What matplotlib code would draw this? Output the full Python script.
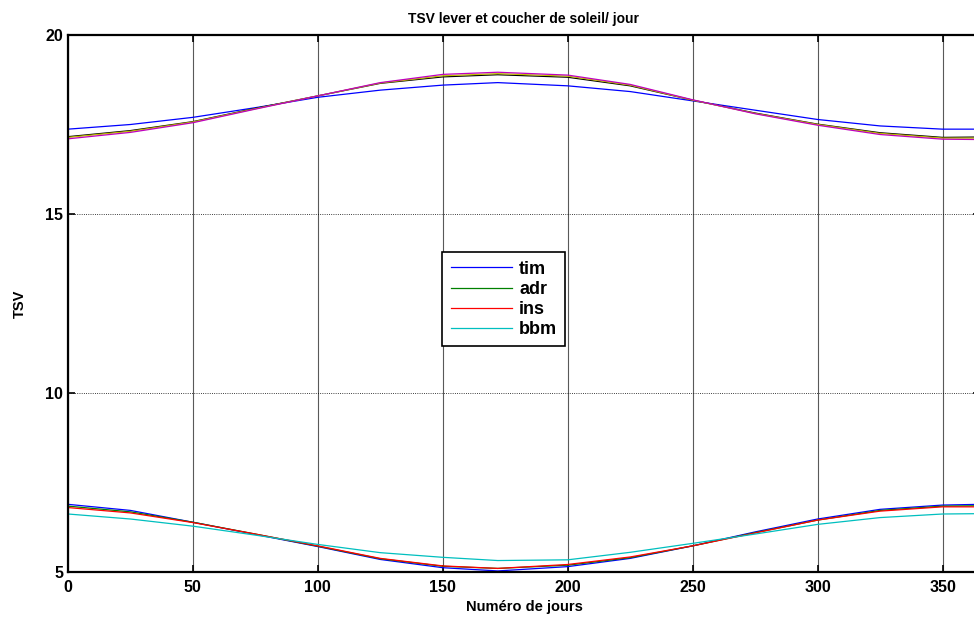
import matplotlib
matplotlib.use('Agg')
import matplotlib.pyplot as plt

plt.rcParams['font.family'] = ['Liberation Sans', 'DejaVu Sans']
plt.rcParams['font.weight'] = 'bold'

# days sampled along the year
days = [0, 25, 50, 75, 100, 125, 150, 172, 200, 225, 250, 275, 300, 325, 350, 365]

# sunrise (lever)
tim_lever = [6.89, 6.72, 6.39, 6.05, 5.71, 5.35, 5.12, 5.03, 5.15, 5.38, 5.73, 6.12, 6.48, 6.75, 6.87, 6.89]
adr_lever = [6.84, 6.68, 6.39, 6.06, 5.72, 5.37, 5.16, 5.10, 5.19, 5.40, 5.73, 6.10, 6.45, 6.72, 6.84, 6.85]
ins_lever = [6.80, 6.65, 6.38, 6.06, 5.73, 5.38, 5.17, 5.10, 5.21, 5.42, 5.73, 6.09, 6.45, 6.70, 6.82, 6.82]
bbm_lever = [6.62, 6.48, 6.28, 6.03, 5.77, 5.54, 5.41, 5.32, 5.34, 5.55, 5.80, 6.06, 6.33, 6.52, 6.62, 6.63]

# sunset (coucher)
tim_coucher = [17.37, 17.50, 17.70, 17.97, 18.26, 18.46, 18.60, 18.67, 18.58, 18.42, 18.16, 17.90, 17.64, 17.46, 17.37, 17.37]
adr_coucher = [17.16, 17.33, 17.58, 17.95, 18.30, 18.65, 18.83, 18.89, 18.82, 18.58, 18.18, 17.82, 17.51, 17.27, 17.14, 17.15]
ins_coucher = [17.14, 17.31, 17.57, 17.94, 18.30, 18.66, 18.86, 18.92, 18.85, 18.60, 18.18, 17.81, 17.50, 17.25, 17.12, 17.12]
bbm_coucher = [17.10, 17.28, 17.55, 17.93, 18.30, 18.67, 18.90, 18.96, 18.88, 18.62, 18.19, 17.80, 17.48, 17.22, 17.09, 17.08]

fig = plt.figure(figsize=(9.74, 6.17), dpi=100)
ax = fig.add_axes([68 / 974, 45 / 617, 912 / 974, 537 / 617])

lw = 0.9
ax.plot(days, tim_lever, color='b', lw=lw, label='tim')
ax.plot(days, adr_lever, color='g', lw=lw, label='adr')
ax.plot(days, ins_lever, color='r', lw=lw, label='ins')
ax.plot(days, bbm_lever, color='c', lw=lw, label='bbm')
ax.plot(days, tim_coucher, color='b', lw=lw)
ax.plot(days, adr_coucher, color='k', lw=lw)
ax.plot(days, ins_coucher, color='y', lw=lw)
ax.plot(days, bbm_coucher, color='m', lw=lw)

ax.set_xlim(0, 365)
ax.set_ylim(5, 20)
ax.set_xticks(range(0, 351, 50))
ax.set_yticks([5, 10, 15, 20])

ax.grid(True, axis='x', color='0.35', lw=0.8, ls='-')
ax.grid(True, axis='y', color='k', lw=0.6, ls=':')
ax.set_axisbelow(True)

ax.tick_params(direction='in', top=True, right=True, labelsize=11.5, length=5, width=1.2)
ax.tick_params(axis='x', pad=6)
for lab in ax.get_xticklabels() + ax.get_yticklabels():
    lab.set_fontweight('bold')
for s in ax.spines.values():
    s.set_linewidth(1.6)

ax.set_title('TSV lever et coucher de soleil/ jour', fontsize=10, fontweight='bold', pad=9)
ax.set_xlabel('Numéro de jours', fontsize=10.5, fontweight='bold', labelpad=3)
ax.set_ylabel('TSV', fontsize=10.5, fontweight='bold', labelpad=13)

leg = ax.legend(loc='center', bbox_to_anchor=(0.478, 0.5075), fancybox=False, framealpha=1,
                edgecolor='k', fontsize=13, handlelength=3.4, handletextpad=0.4,
                borderpad=0.45, labelspacing=0.18, borderaxespad=0)
leg.get_frame().set_linewidth(1.2)
for t in leg.get_texts():
    t.set_fontweight('bold')

fig.savefig('out.png', dpi=100)
